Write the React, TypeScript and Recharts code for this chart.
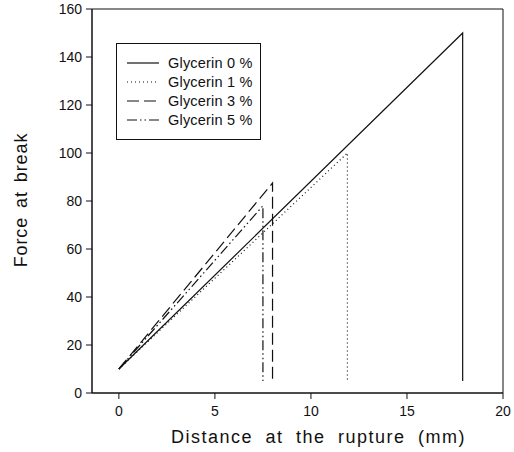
import React from "react";
import { LineChart, Line, XAxis, YAxis, Legend, Label, ReferenceArea } from "recharts";

const seriesNames = ["Glycerin 0 %", "Glycerin 1 %", "Glycerin 3 %", "Glycerin 5 %"];
const dashes = ["", "1 3", "12 5", "10 3 1.5 3 1.5 3"];

// x = distance (mm), y = force; last point is the drop after rupture
const glycerin0 = [
  { x: 0, y: 10 },
  { x: 17.9, y: 150 },
  { x: 17.9, y: 5 },
];
const glycerin1 = [
  { x: 0, y: 10 },
  { x: 11.9, y: 100 },
  { x: 11.9, y: 5 },
];
const glycerin3 = [
  { x: 0, y: 10 },
  { x: 8, y: 87.5 },
  { x: 8, y: 5 },
];
const glycerin5 = [
  { x: 0, y: 10 },
  { x: 7.5, y: 78 },
  { x: 7.5, y: 5 },
];

const xTicks = [0, 5, 10, 15, 20];
const yTicks = [0, 20, 40, 60, 80, 100, 120, 140, 160];

const allSeries = [glycerin0, glycerin1, glycerin3, glycerin5];
const font = "'Liberation Sans', Arial, sans-serif";

const LegendBox = () => (
  <div
    style={{
      border: "1.3px solid #111",
      background: "#fff",
      width: 145,
      height: 97,
      boxSizing: "border-box",
      paddingTop: 9,
      fontFamily: font,
      fontSize: 14.5,
      letterSpacing: 0.2,
      color: "#111",
    }}
  >
    {seriesNames.map((n, i) => (
      <div key={n} style={{ display: "flex", alignItems: "center", height: 19 }}>
        <svg width={50} height={10}>
          <line x1={10} x2={42} y1={5} y2={5} stroke="#111" strokeWidth={1.2} strokeDasharray={dashes[i]} />
        </svg>
        <span style={{ marginLeft: 1 }}>{n}</span>
      </div>
    ))}
  </div>
);

export default function App() {
  return (
    <div style={{ position: "absolute", left: 0, top: 0, width: 514, height: 452, background: "#fff" }}>
      <LineChart width={514} height={452} margin={{ top: 9, right: 11, bottom: 0, left: 0 }}>
        <ReferenceArea x1={-1.4} x2={20} y1={0} y2={160} fill="none" stroke="#111" strokeWidth={1} ifOverflow="visible" />
        <XAxis
          type="number"
          dataKey="x"
          domain={[-1.4, 20]}
          ticks={xTicks}
          height={59}
          tickSize={6}
          tickMargin={7}
          stroke="#111"
          tick={{ fill: "#111", fontSize: 14, fontFamily: font }}
        >
          <Label
            content={(p: any) => (
              <text
                x={p.viewBox.x + p.viewBox.width / 2 + 21}
                y={443}
                textAnchor="middle"
                fill="#111"
                fontSize={18}
                fontFamily={font}
                letterSpacing={1.5}
                wordSpacing={6}
              >
                Distance at the rupture (mm)
              </text>
            )}
          />
        </XAxis>
        <YAxis
          type="number"
          dataKey="y"
          domain={[0, 160]}
          ticks={yTicks}
          width={92}
          tickSize={6}
          tickMargin={4}
          stroke="#111"
          tick={{ fill: "#111", fontSize: 14, fontFamily: font }}
        >
          <Label
            content={(p: any) => {
              const cy = p.viewBox.y + p.viewBox.height / 2 - 1;
              return (
                <text
                  x={27}
                  y={cy}
                  transform={`rotate(-90, 27, ${cy})`}
                  textAnchor="middle"
                  fill="#111"
                  fontSize={18}
                  fontFamily={font}
                  letterSpacing={0.9}
                  wordSpacing={3}
                >
                  Force at break
                </text>
              );
            }}
          />
        </YAxis>
        <Legend
          layout="horizontal"
          align="center"
          verticalAlign="middle"
          wrapperStyle={{ position: "absolute", left: 116, top: 43, width: 145 }}
          content={() => <LegendBox />}
        />
        {allSeries.map((s, i) => (
          <Line
            key={seriesNames[i]}
            data={s}
            dataKey="y"
            name={seriesNames[i]}
            stroke="#111"
            strokeWidth={1.2}
            strokeDasharray={dashes[i] || undefined}
            dot={false}
            activeDot={false}
            isAnimationActive={false}
          />
        ))}
      </LineChart>
    </div>
  );
}
